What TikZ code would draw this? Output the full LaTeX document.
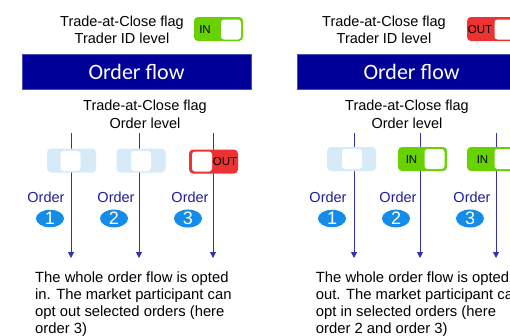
\documentclass[tikz,border=0pt]{standalone}
\usepackage{fontspec}
\setmainfont{Liberation Sans}
\newfontfamily\bannerfont{Carlito}
\usetikzlibrary{arrows.meta,shapes.geometric}
\definecolor{navyband}{RGB}{0,0,153}
\definecolor{tgreen}{RGB}{104,210,0}
\definecolor{tred}{RGB}{236,50,50}
\definecolor{tlight}{RGB}{214,234,248}
\definecolor{ordblue}{RGB}{30,30,160}
\definecolor{badgeblue}{RGB}{20,140,232}
\definecolor{flowline}{RGB}{50,50,175}
\tikzset{
  toggle/.style={draw=none, rounded corners=4pt, minimum width=49pt, minimum height=24pt, inner sep=0pt},
  knob/.style={fill=white, rounded corners=3pt, minimum width=20pt, minimum height=20pt, inner sep=0pt},
  tlab/.style={font=\fontsize{11.5}{13}\selectfont, text=black, inner sep=0pt},
  band/.style={fill=navyband, draw=navyband!70!white, line width=0.6pt, minimum width=229pt, minimum height=35pt, inner sep=0pt, text=white, font=\bannerfont\fontsize{22}{26}\selectfont},
  head/.style={align=center, font=\fontsize{14.5}{16.5}\selectfont, inner sep=0pt},
  ordtxt/.style={text=ordblue, font=\fontsize{14.5}{17}\selectfont, inner sep=0pt},
  badge/.style={ellipse, fill=badgeblue, minimum width=28pt, minimum height=17pt, inner sep=0pt, text=white, font=\fontsize{18}{18}\selectfont},
  flow/.style={draw=flowline, line width=1pt, -{Triangle[width=6pt,length=6pt]}},
  note/.style={align=left, font=\fontsize{14.8}{17}\selectfont, inner sep=0pt, anchor=base west}
}
\begin{document}
\begin{tikzpicture}[x=1pt,y=-1pt]
\useasboundingbox (0,0) rectangle (510,335);
\clip (0,0) rectangle (510,335);
\fill[white] (0,0) rectangle (510,335);

% ---------- left panel ----------
\node[head] (lhead) at (122,30) {Trade-at-Close flag\\Trader ID level};
\node[toggle, fill=tgreen] (ltog) at (218.5,29) {};
\node[knob] (ltogk) at (231,29.5) {};
\node[tlab] (ltogl) at (205,29.5) {IN};
\node[band] (lband) at (136.5,71.5) {Order flow};
\node[head, font=\fontsize{14.5}{18}\selectfont] (lsub) at (145,114) {Trade-at-Close flag\\Order level};

\coordinate (la1) at (71,133); \coordinate (lb1) at (71,258);
\coordinate (la2) at (139,133); \coordinate (lb2) at (139,258);
\coordinate (la3) at (213,133); \coordinate (lb3) at (213,258);
\draw[flow] (la1) -- (lb1);
\draw[flow] (la2) -- (lb2);
\draw[flow] (la3) -- (lb3);

\node[toggle, fill=tlight] (lt1) at (71.5,160.5) {};
\node[knob] (lt1k) at (70.5,161) {};
\node[toggle, fill=tlight] (lt2) at (141,160.5) {};
\node[knob] (lt2k) at (141,161) {};
\node[toggle, fill=tred] (lt3) at (213.5,161.5) {};
\node[knob] (lt3k) at (202,161.5) {};
\node[tlab] (lt3l) at (225,162) {OUT};

\node[ordtxt] (lo1) at (46,197) {Order};
\node[ordtxt] (lo2) at (116,197) {Order};
\node[ordtxt] (lo3) at (190,197) {Order};
\node[badge] (lbd1) at (50,218.5) {1};
\node[badge] (lbd2) at (114,218.5) {2};
\node[badge] (lbd3) at (188,218.5) {3};

\node[note] (lnote) at (35,333) {The whole order flow is opted\\in. The market participant can\\opt out selected orders (here\\order 3)};

% ---------- right panel ----------
\node[head] (rhead) at (384,30) {Trade-at-Close flag\\Trader ID level};
\node[toggle, fill=tred] (rtog) at (491.5,29) {};
\node[knob] (rtogk) at (504.5,29.5) {};
\node[tlab] (rtogl) at (480,29.5) {OUT};
\node[band] (rband) at (411.5,71.5) {Order flow};
\node[head, font=\fontsize{14.5}{18}\selectfont] (rsub) at (407,114) {Trade-at-Close flag\\Order level};

\coordinate (ra1) at (354,133); \coordinate (rb1) at (354,258);
\coordinate (ra2) at (420,133); \coordinate (rb2) at (420,258);
\coordinate (ra3) at (496,133); \coordinate (rb3) at (496,258);
\draw[flow] (ra1) -- (rb1);
\draw[flow] (ra2) -- (rb2);
\draw[flow] (ra3) -- (rb3);

\node[toggle, fill=tlight] (rt1) at (351.5,159) {};
\node[knob] (rt1k) at (352,159) {};
\node[toggle, fill=tgreen] (rt2) at (422.5,159) {};
\node[knob] (rt2k) at (434.5,159) {};
\node[tlab] (rt2l) at (411.5,159.5) {IN};
\node[toggle, fill=tgreen] (rt3) at (491.5,159) {};
\node[knob] (rt3k) at (504.5,159) {};
\node[tlab] (rt3l) at (482.5,159.5) {IN};

\node[ordtxt] (ro1) at (328,197) {Order};
\node[ordtxt] (ro2) at (398,197) {Order};
\node[ordtxt] (ro3) at (472,197) {Order};
\node[badge] (rbd1) at (332,218.5) {1};
\node[badge] (rbd2) at (396,218.5) {2};
\node[badge] (rbd3) at (470,218.5) {3};

\node[note] (rnote) at (315.7,333) {The whole order flow is opted\\out. The market participant can\\opt in selected orders (here\\order 2 and order 3)};
\end{tikzpicture}
\end{document}
